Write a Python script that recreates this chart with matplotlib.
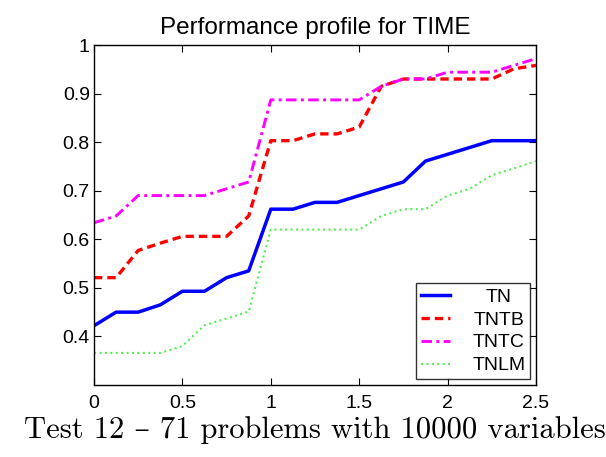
import matplotlib
matplotlib.use("Agg")
import matplotlib.pyplot as plt

tau = [0, 0.125, 0.25, 0.375, 0.5, 0.625, 0.75, 0.875, 1.0, 1.125, 1.25,
       1.375, 1.5, 1.625, 1.75, 1.875, 2.0, 2.125, 2.25, 2.375, 2.5]
tn   = [0.422, 0.450, 0.450, 0.465, 0.493, 0.493, 0.521, 0.535, 0.662, 0.662, 0.676,
        0.676, 0.690, 0.704, 0.718, 0.761, 0.775, 0.789, 0.803, 0.803, 0.803]
tntb = [0.521, 0.521, 0.577, 0.592, 0.606, 0.606, 0.606, 0.648, 0.803, 0.803, 0.817,
        0.817, 0.831, 0.915, 0.930, 0.930, 0.930, 0.930, 0.930, 0.951, 0.958]
tntc = [0.634, 0.648, 0.690, 0.690, 0.690, 0.690, 0.704, 0.718, 0.887, 0.887, 0.887,
        0.887, 0.887, 0.915, 0.930, 0.930, 0.944, 0.944, 0.944, 0.958, 0.972]
tnlm = [0.366, 0.366, 0.366, 0.366, 0.380, 0.423, 0.437, 0.451, 0.620, 0.620, 0.620,
        0.620, 0.620, 0.648, 0.662, 0.662, 0.690, 0.704, 0.732, 0.746, 0.761]
labels = ["TN", "TNTB", "TNTC", "TNLM"]
xticks = [0, 0.5, 1, 1.5, 2, 2.5]
xticklabels = ["0", "0.5", "1", "1.5", "2", "2.5"]
yticks = [0.4, 0.5, 0.6, 0.7, 0.8, 0.9, 1.0]
yticklabels = ["0.4", "0.5", "0.6", "0.7", "0.8", "0.9", "1"]

plt.rcParams['font.family'] = ['Liberation Sans', 'DejaVu Sans']

fig = plt.figure(figsize=(6.06, 4.57), dpi=100)
ax = fig.add_axes([94/606, 72/457, 442/606, 340/457])

ax.plot(tau, tn, color='#0000ff', lw=2.5, ls='-', label=labels[0])
ax.plot(tau, tntb, color='#ff0000', lw=2.4, ls=(0, (2.5, 1.5)), label=labels[1])
ax.plot(tau, tntc, color='#ff00ff', lw=2.1, ls=(0, (3.6, 1.5, 1.0, 1.5)), label=labels[2])
ax.plot(tau, tnlm, color='#55ee55', lw=1.5, ls=(0, (1, 1.6)), label=labels[3])

ax.set_xlim(0, 2.5)
ax.set_ylim(0.3, 1.0)
ax.set_xticks(xticks)
ax.set_xticklabels(xticklabels)
ax.set_yticks(yticks)
ax.set_yticklabels(yticklabels)
ax.tick_params(direction='in', top=True, right=True, labelsize=14, length=5,
               width=0.8)
ax.tick_params(axis='x', pad=7)
ax.tick_params(axis='y', pad=3)
for s in ax.spines.values():
    s.set_linewidth(1.0)

ax.set_title("Performance profile for TIME", fontsize=17.5, pad=8)
ax.set_xlabel("Test 12 \u2013 71 problems with 10000 variables",
              family=['cmr10', 'DejaVu Serif'], fontsize=22, labelpad=3)

leg = ax.legend(loc='lower right', fontsize=14, frameon=True, fancybox=False,
                edgecolor='black', borderaxespad=0.3, handlelength=1.5,
                handletextpad=1.15, labelspacing=0.27, borderpad=0.25)
leg.get_frame().set_linewidth(1.0)

# centre the legend labels within their column
renderer = fig.canvas.get_renderer()
widths = [t.get_window_extent(renderer).width for t in leg.get_texts()]
wmax = max(widths)
for t, w in zip(leg.get_texts(), widths):
    t.set_x((wmax - w) / 2.0)

fig.savefig("out.png", dpi=100)
